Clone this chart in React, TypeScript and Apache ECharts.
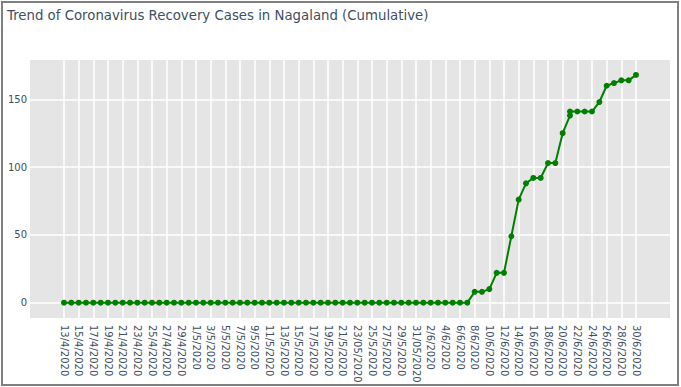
import React, { useEffect, useRef } from "react";
import * as echarts from "echarts";

const categories = [
  "13/4/2020", "14/4/2020", "15/4/2020", "16/4/2020", "17/4/2020", "18/4/2020", "19/4/2020", "20/4/2020", "21/4/2020", "22/4/2020",
  "23/4/2020", "24/4/2020", "25/4/2020", "26/4/2020", "27/4/2020", "28/4/2020", "29/4/2020", "30/4/2020",
  "1/5/2020", "2/5/2020", "3/5/2020", "4/5/2020", "5/5/2020", "6/5/2020", "7/5/2020", "8/5/2020", "9/5/2020", "10/5/2020",
  "11/5/2020", "12/5/2020", "13/5/2020", "14/5/2020", "15/5/2020", "16/5/2020", "17/5/2020", "18/5/2020", "19/5/2020", "20/5/2020",
  "21/5/2020", "22/5/2020", "23/05/2020", "24/5/2020", "25/5/2020", "26/5/2020", "27/5/2020", "28/5/2020", "29/5/2020", "30/5/2020",
  "31/05/2020",
  "1/6/2020", "2/6/2020", "3/6/2020", "4/6/2020", "5/6/2020", "6/6/2020", "7/6/2020", "8/6/2020", "9/6/2020", "10/6/2020",
  "11/6/2020", "12/6/2020", "13/6/2020", "14/6/2020", "15/6/2020", "16/6/2020", "17/6/2020", "18/6/2020", "19/6/2020", "20/6/2020",
  "21/6/2020", "22/6/2020", "23/6/2020", "24/6/2020", "25/6/2020", "26/6/2020", "27/6/2020", "28/6/2020", "29/6/2020", "30/6/2020",
];

// Dates of the recorded points (21/6/2020 has two records)
const recoveryDates = [
  "13/4/2020", "14/4/2020", "15/4/2020", "16/4/2020", "17/4/2020", "18/4/2020", "19/4/2020", "20/4/2020", "21/4/2020", "22/4/2020",
  "23/4/2020", "24/4/2020", "25/4/2020", "26/4/2020", "27/4/2020", "28/4/2020", "29/4/2020", "30/4/2020",
  "1/5/2020", "2/5/2020", "3/5/2020", "4/5/2020", "5/5/2020", "6/5/2020", "7/5/2020", "8/5/2020", "9/5/2020", "10/5/2020",
  "11/5/2020", "12/5/2020", "13/5/2020", "14/5/2020", "15/5/2020", "16/5/2020", "17/5/2020", "18/5/2020", "19/5/2020", "20/5/2020",
  "21/5/2020", "22/5/2020", "23/05/2020", "24/5/2020", "25/5/2020", "26/5/2020", "27/5/2020", "28/5/2020", "29/5/2020", "30/5/2020",
  "31/05/2020",
  "1/6/2020", "2/6/2020", "3/6/2020", "4/6/2020", "5/6/2020", "6/6/2020", "7/6/2020", "8/6/2020", "9/6/2020", "10/6/2020",
  "11/6/2020", "12/6/2020", "13/6/2020", "14/6/2020", "15/6/2020", "16/6/2020", "17/6/2020", "18/6/2020", "19/6/2020", "20/6/2020",
  "21/6/2020", "21/6/2020", "22/6/2020", "23/6/2020", "24/6/2020", "25/6/2020", "26/6/2020", "27/6/2020", "28/6/2020", "29/6/2020",
  "30/6/2020",
];

const recoveryValues = [
  0, 0, 0, 0, 0, 0, 0, 0, 0, 0,
  0, 0, 0, 0, 0, 0, 0, 0,
  0, 0, 0, 0, 0, 0, 0, 0, 0, 0,
  0, 0, 0, 0, 0, 0, 0, 0, 0, 0,
  0, 0, 0, 0, 0, 0, 0, 0, 0, 0,
  0,
  0, 0, 0, 0, 0, 0, 0, 8, 8, 10,
  22, 22, 49, 76, 88, 92, 92, 103, 103, 125,
  138, 141, 141, 141, 141, 148, 160, 162, 164, 164,
  168,
];

const yTicks = [0, 50, 100, 150];
const yMin = -11.3;
const yMax = 179;

const titleText = "Trend of Coronavirus Recovery Cases in Nagaland (Cumulative)";

export default function App() {
  const ref = useRef<HTMLDivElement>(null);

  useEffect(() => {
    if (!ref.current) return;
    const chart = echarts.init(ref.current, undefined, { renderer: "svg" });
    const textColor = "#3f4f62";
    const font = "DejaVu Sans, Verdana, sans-serif";
    chart.setOption({
      animation: false,
      backgroundColor: "#ffffff",
      title: {
        text: titleText,
        left: 7,
        top: 9,
        padding: 0,
        textStyle: { fontFamily: font, fontSize: 13.3, fontWeight: "normal", color: textColor },
      },
      grid: [
        { left: 30, right: 11, top: 60, bottom: 69, show: true, backgroundColor: "#e5e5e5", borderWidth: 0, containLabel: false },
        { left: 64, right: 45, top: 60, bottom: 69, containLabel: false },
      ],
      xAxis: [
        { type: "value", gridIndex: 0, min: 0, max: 1, show: false },
        {
          type: "category",
          gridIndex: 1,
          data: categories,
          boundaryGap: false,
          axisLine: { show: false },
          axisTick: { show: false },
          axisLabel: {
            interval: 1,
            rotate: -90,
            margin: 7,
            fontFamily: font,
            fontSize: 10,
            color: textColor,
          },
          splitLine: { show: true, interval: 1, lineStyle: { color: "#ffffff", width: 1.5 } },
        },
      ],
      yAxis: [
        {
          type: "value",
          gridIndex: 0,
          min: yMin,
          max: yMax,
          axisLine: { show: false },
          axisTick: { show: false, customValues: yTicks },
          axisLabel: { customValues: yTicks, margin: 3, fontFamily: font, fontSize: 10, color: textColor },
          splitLine: { show: true, lineStyle: { color: "#ffffff", width: 1.5 } },
        },
        { type: "value", gridIndex: 1, min: yMin, max: yMax, show: false, splitLine: { show: false } },
      ],
      series: [
        {
          type: "line",
          xAxisIndex: 1,
          yAxisIndex: 1,
          data: recoveryDates.map((d, i) => [d, recoveryValues[i]]),
          symbol: "circle",
          symbolSize: 6,
          showAllSymbol: true,
          lineStyle: { color: "#008000", width: 2 },
          itemStyle: { color: "#008000" },
        },
      ],
    });
    return () => chart.dispose();
  }, []);

  return (
    <div style={{ position: "fixed", left: 0, top: 0, width: 681, height: 387, background: "#fff" }}>
      <div ref={ref} style={{ position: "absolute", left: 0, top: 0, width: 681, height: 387 }} />
      <div
        style={{
          position: "absolute",
          left: 1,
          top: 1,
          width: 678,
          height: 385,
          border: "2px solid #7f7f7f",
          boxSizing: "border-box",
          pointerEvents: "none",
        }}
      />
    </div>
  );
}
